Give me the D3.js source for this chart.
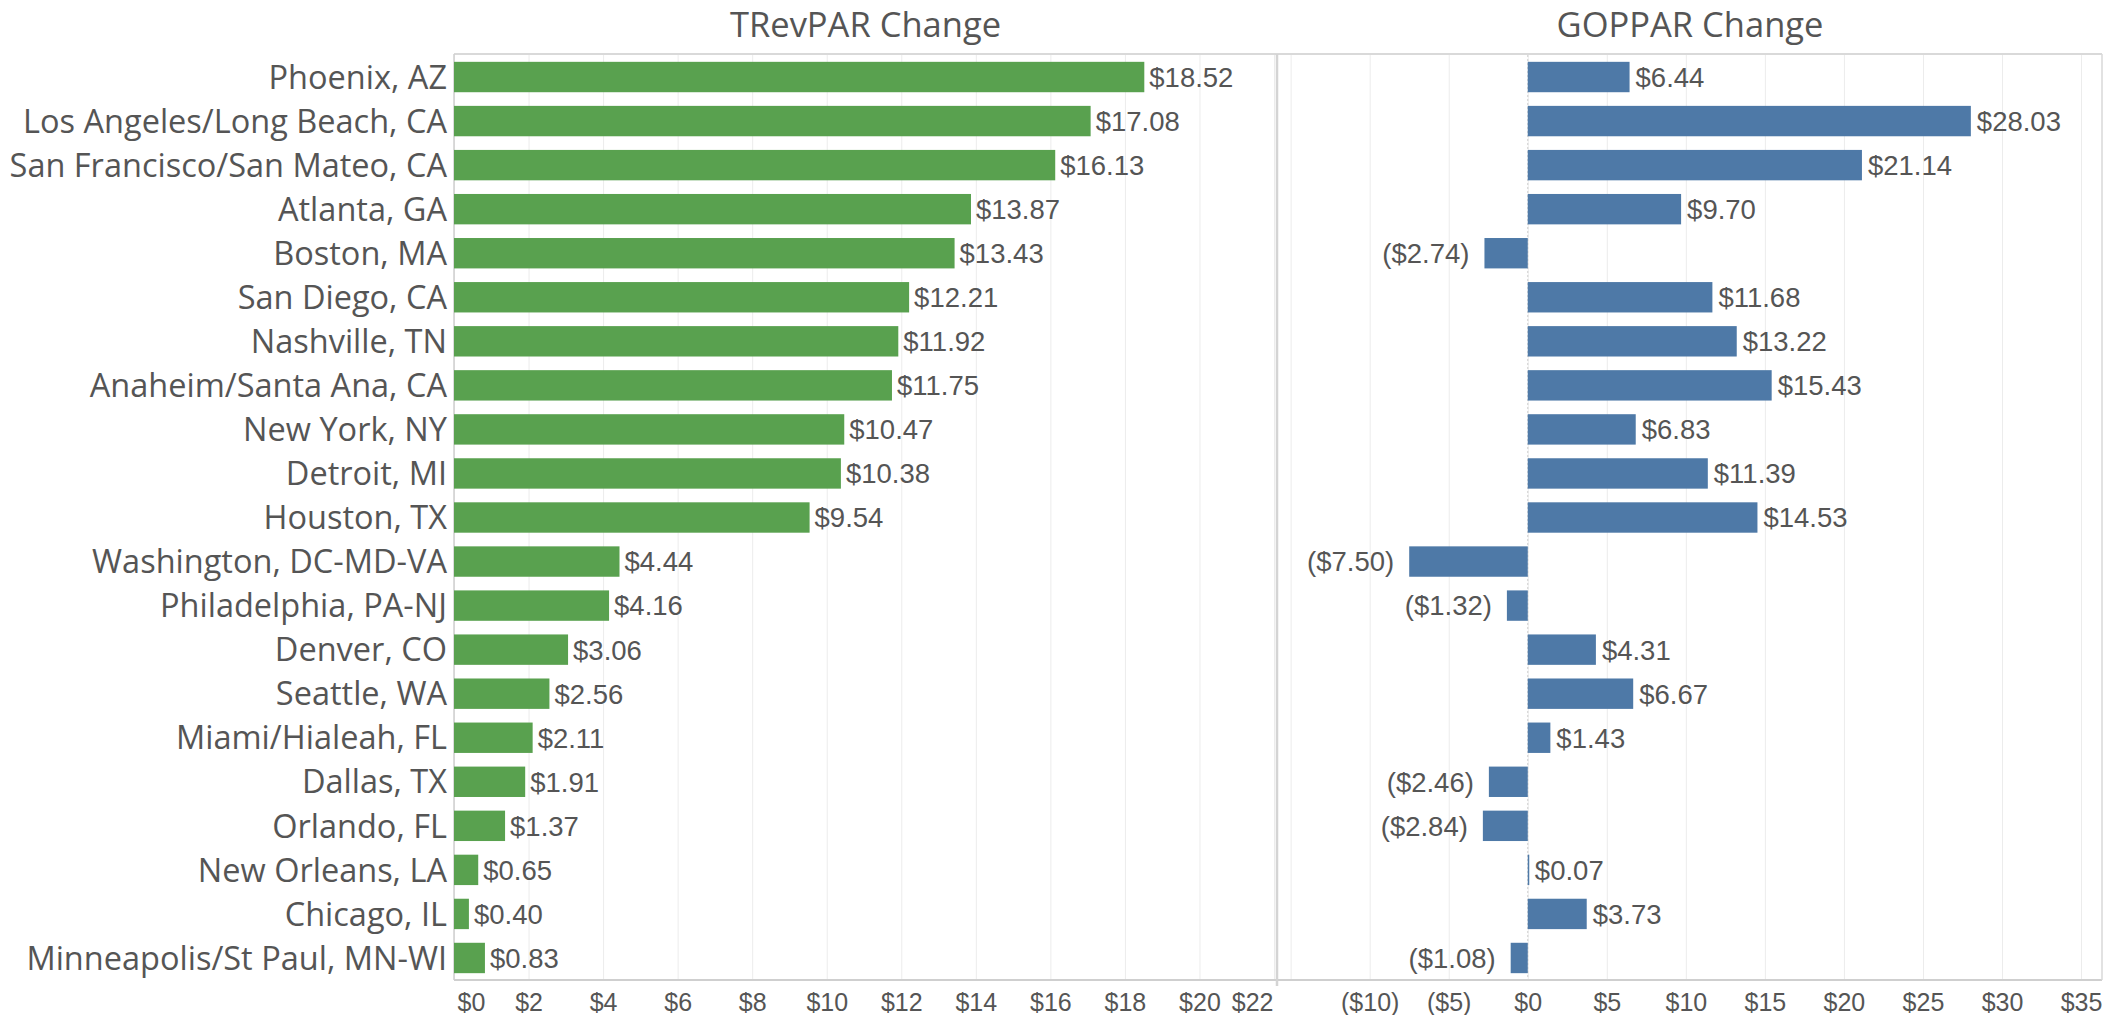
<!DOCTYPE html>
<html lang="en">
<head>
<meta charset="utf-8">
<title>TRevPAR / GOPPAR Change</title>
<script src="https://cdnjs.cloudflare.com/ajax/libs/d3/7.8.5/d3.min.js"></script>
<style>
  body { margin: 0; background: #fff; }
  svg text { fill: #555; }
  .cat { font-family: "Open Sans", sans-serif; font-size: 32.5px; }
  .title { font-family: "Open Sans", sans-serif; font-size: 34.5px; }
  .val, .tick text { font-family: "Liberation Sans", Arial, sans-serif; }
</style>
</head>
<body>
<script>
// data
var cities = ["Phoenix, AZ", "Los Angeles/Long Beach, CA", "San Francisco/San Mateo, CA", "Atlanta, GA",
  "Boston, MA", "San Diego, CA", "Nashville, TN", "Anaheim/Santa Ana, CA", "New York, NY", "Detroit, MI",
  "Houston, TX", "Washington, DC-MD-VA", "Philadelphia, PA-NJ", "Denver, CO", "Seattle, WA",
  "Miami/Hialeah, FL", "Dallas, TX", "Orlando, FL", "New Orleans, LA", "Chicago, IL", "Minneapolis/St Paul, MN-WI"];
var trevpar = [18.52, 17.08, 16.13, 13.87, 13.43, 12.21, 11.92, 11.75, 10.47, 10.38, 9.54,
  4.44, 4.16, 3.06, 2.56, 2.11, 1.91, 1.37, 0.65, 0.40, 0.83];
var goppar = [6.44, 28.03, 21.14, 9.70, -2.74, 11.68, 13.22, 15.43, 6.83, 11.39, 14.53,
  -7.50, -1.32, 4.31, 6.67, 1.43, -2.46, -2.84, 0.07, 3.73, -1.08];
var trevTicks = [0, 2, 4, 6, 8, 10, 12, 14, 16, 18, 20, 22];
var gopGrid = [-15, -10, -5, 0, 5, 10, 15, 20, 25, 30, 35];
var gopTicks = [-10, -5, 0, 5, 10, 15, 20, 25, 30, 35];

var width = 2111, height = 1015;
var plotTop = 55, plotBottom = 980;

var svg = d3.select("body").append("svg").attr("width", width).attr("height", height);

var y = d3.scaleBand().domain(cities).range([plotTop, plotBottom]).paddingInner(0.31).paddingOuter(0.155);
var xL = d3.scaleLinear().domain([0, 22.08]).range([454, 1277]);
var xR = d3.scaleLinear().domain([-15.8, 36.2]).range([1278, 2100]);

function money(d) {
    var s = "$" + Math.abs(d);
    return d < 0 ? "(" + s + ")" : s;
}
function money2(d) {
    var s = "$" + Math.abs(d).toFixed(2);
    return d < 0 ? "(" + s + ")" : s;
}

// gridlines
function grid(x, vals) {
    var g = svg.append("g").attr("transform", "translate(0," + plotBottom + ")")
        .call(d3.axisBottom(x).tickValues(vals).tickSize(-(plotBottom - plotTop)).tickFormat(""));
    g.select(".domain").remove();
    g.selectAll(".tick line").attr("stroke", "#ececec").attr("stroke-width", 1);
}
grid(xL, trevTicks);
grid(xR, gopGrid);

// zero line right panel
svg.append("line").attr("x1", xR(0)).attr("x2", xR(0)).attr("y1", plotTop).attr("y2", plotBottom)
    .attr("stroke", "#cfcfcf").attr("stroke-dasharray", "2,2");

// frame lines
svg.append("line").attr("x1", 454).attr("x2", 2102).attr("y1", plotTop - 1).attr("y2", plotTop - 1).attr("stroke", "#d9d9d9").attr("stroke-width", 2);
svg.append("line").attr("x1", 454).attr("x2", 2102).attr("y1", plotBottom).attr("y2", plotBottom).attr("stroke", "#cfcfcf").attr("stroke-width", 2);
svg.append("line").attr("x1", 454).attr("x2", 454).attr("y1", plotTop - 1).attr("y2", plotBottom).attr("stroke", "#cfcfcf").attr("stroke-width", 1.5);
svg.append("line").attr("x1", 1277).attr("x2", 1277).attr("y1", plotTop - 1).attr("y2", plotBottom + 6).attr("stroke", "#d4d4d4").attr("stroke-width", 2.5);
svg.append("line").attr("x1", 2102).attr("x2", 2102).attr("y1", plotTop - 1).attr("y2", plotBottom).attr("stroke", "#d9d9d9").attr("stroke-width", 1.5);

// titles
svg.append("text").attr("class", "title").attr("x", (454 + 1277) / 2).attr("y", 37)
    .attr("text-anchor", "middle").text("TRevPAR Change");
svg.append("text").attr("class", "title").attr("x", (1278 + 2102) / 2).attr("y", 37)
    .attr("text-anchor", "middle").text("GOPPAR Change");

// category labels
svg.selectAll("text.cat").data(cities).enter().append("text")
    .attr("class", "cat")
    .attr("x", 447)
    .attr("y", function(d) { return y(d) + y.bandwidth() / 2; })
    .attr("dy", "0.36em")
    .attr("text-anchor", "end")
    .text(function(d) { return d; });

// TRevPAR bars
svg.selectAll("rect.trev").data(trevpar).enter().append("rect")
    .attr("class", "trev")
    .attr("x", xL(0))
    .attr("y", function(d, i) { return y(cities[i]); })
    .attr("width", function(d) { return xL(d) - xL(0); })
    .attr("height", y.bandwidth())
    .attr("fill", "#59A14F");
svg.selectAll("text.tv").data(trevpar).enter().append("text")
    .attr("class", "val tv")
    .attr("x", function(d) { return xL(d) + 5; })
    .attr("y", function(d, i) { return y(cities[i]) + y.bandwidth() / 2; })
    .attr("dy", "0.36em")
    .attr("font-size", "27.5px")
    .text(money2);

// GOPPAR bars
svg.selectAll("rect.gop").data(goppar).enter().append("rect")
    .attr("class", "gop")
    .attr("x", function(d) { return xR(Math.min(0, d)); })
    .attr("y", function(d, i) { return y(cities[i]); })
    .attr("width", function(d) { return Math.max(1.5, Math.abs(xR(d) - xR(0))); })
    .attr("height", y.bandwidth())
    .attr("fill", "#4E79A7");
svg.selectAll("text.gv").data(goppar).enter().append("text")
    .attr("class", "val gv")
    .attr("x", function(d) { return d < 0 ? xR(d) - 15 : xR(d) + 6; })
    .attr("y", function(d, i) { return y(cities[i]) + y.bandwidth() / 2; })
    .attr("dy", "0.36em")
    .attr("text-anchor", function(d) { return d < 0 ? "end" : "start"; })
    .attr("font-size", "27.5px")
    .text(money2);

// axes labels
var axL = svg.append("g").attr("transform", "translate(0," + plotBottom + ")")
    .call(d3.axisBottom(xL).tickValues(trevTicks).tickSize(0).tickPadding(13).tickFormat(money));
var axR = svg.append("g").attr("transform", "translate(0," + plotBottom + ")")
    .call(d3.axisBottom(xR).tickValues(gopTicks).tickSize(0).tickPadding(13).tickFormat(money));
[axL, axR].forEach(function(a) {
    a.select(".domain").remove();
    a.selectAll(".tick text").attr("font-size", "25px").attr("fill", "#555");
});
// keep end labels inside the panel, like the original
axL.selectAll(".tick text").filter(function(d) { return d === 0; }).attr("text-anchor", "start").attr("x", 3);
axL.selectAll(".tick text").filter(function(d) { return d === 22; }).attr("text-anchor", "end").attr("x", -1);
</script>
</body>
</html>
